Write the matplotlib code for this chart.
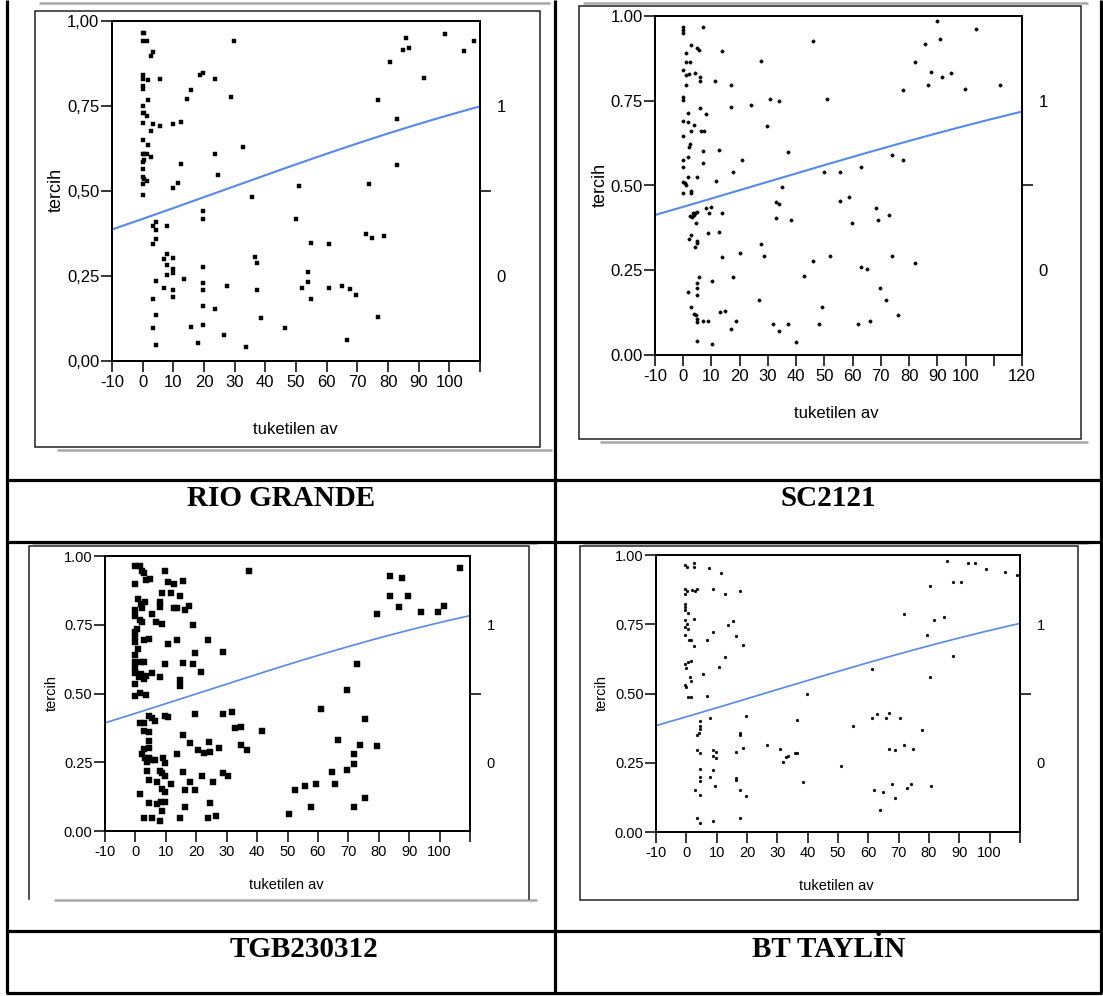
import matplotlib
matplotlib.use('Agg')
import matplotlib.pyplot as plt
import numpy as np
from matplotlib import font_manager
from matplotlib.lines import Line2D
from matplotlib.patches import Rectangle

plt.rcParams['axes.unicode_minus'] = False

# ---------------- DATA ----------------
captions = ["RIO GRANDE", "SC2121", "TGB230312", "BT TAYL\u0130N"]
x_label = "tuketilen av"
y_label = "tercih"
right_labels = ["0", "1"]

rio_x = [0, 0.5, 0, 1.4, 3.5, 2.6, 0, 0, 1.7, 5.5, 0, 0, 1.7, 0, 0, 0.5, 1.4, 0, 3.5, 5.5, 2.6, 0, 1.7, 0, 0.5, 1.4, 2.6, 0, 0.5, 0, 0, 0.5, 1.4, 0, 0,
         9.8, 12.6, 14.4, 15.6, 18.8, 19.8, 23.7, 28.8, 29.8, 23.7, 24.7, 12.6, 11.6, 9.8, 32.8, 35.6, 50.9, 76.7, 83, 83, 80.5, 84.9, 86.7, 85.8, 91.6, 98.6, 104.9, 107.9, 73.9,
         50, 19.8, 19.8, 3.5, 4.4, 7.9, 4.4, 4.4, 3.5, 7.9, 7, 9.8, 7.9, 9.8, 9.8, 7.9, 13.5, 4.4, 7, 9.8, 9.8, 3.5, 4.4, 3.5, 4.4, 19.8, 19.8, 19.8, 19.8, 19.8, 15.6, 17.9,
         23.7, 26.5, 27.4, 33.7, 36.5, 37.4, 37.4, 38.6, 46.5, 54, 54, 51.9, 55, 55, 60.9, 60.9, 64.9, 67.7, 69.5, 66.7, 72.8, 74.7, 78.6, 76.7]
rio_y = [0.965, 0.965, 0.94, 0.94, 0.91, 0.896, 0.84, 0.83, 0.825, 0.83, 0.81, 0.80, 0.767, 0.75, 0.73, 0.73, 0.72, 0.70, 0.696, 0.69, 0.677, 0.651, 0.636, 0.61, 0.61, 0.61, 0.60, 0.585, 0.59, 0.565, 0.54, 0.536, 0.53, 0.522, 0.489,
         0.696, 0.704, 0.771, 0.796, 0.84, 0.847, 0.828, 0.777, 0.94, 0.61, 0.546, 0.58, 0.524, 0.508, 0.63, 0.483, 0.514, 0.767, 0.712, 0.575, 0.879, 0.916, 0.922, 0.949, 0.832, 0.963, 0.912, 0.941, 0.52,
         0.418, 0.442, 0.418, 0.398, 0.41, 0.398, 0.385, 0.36, 0.344, 0.316, 0.30, 0.303, 0.281, 0.27, 0.26, 0.252, 0.242, 0.236, 0.216, 0.209, 0.187, 0.181, 0.134, 0.097, 0.046, 0.277, 0.228, 0.209, 0.162, 0.107, 0.10, 0.052,
         0.154, 0.077, 0.222, 0.042, 0.305, 0.289, 0.209, 0.126, 0.097, 0.263, 0.232, 0.216, 0.348, 0.181, 0.344, 0.216, 0.222, 0.213, 0.193, 0.062, 0.373, 0.363, 0.367, 0.128]

sc_x = [0, 0, 0, 0, 0, 0, 0, 0, 0, 0, 0, 0, 0.7, 1.1, 0.9, 0.9, 0.9, 1, 1.9, 2.5, 2.7, 1.7, 1.7, 2.7, 2.5, 2, 1.7, 1.7, 2.7, 2.7, 3.8, 4, 4.8, 5.7, 6, 5.9, 5.9, 6.2, 7.2, 6.9, 6.9, 6.9, 4.8, 7.9,
        11.1, 13.7, 16.8, 16.8, 12.6, 11.6, 17.8, 20.9, 24, 27.7, 29.7, 30.8, 33.9, 37, 34.9, 45.8, 51, 49.8, 55.7, 62.9, 73.8, 77.8, 78, 82.2, 85.6, 86.6, 87.7, 89.9, 90.8, 91.8, 95, 99.8, 103.8, 112.1,
        32.9, 33.9, 32.9, 38.1, 55.7, 58.7, 59.9, 68.3, 69.1, 72.8, 2.5, 3, 3.5, 4.2, 4.8, 3.7, 4.7, 2.2, 2.7, 4, 4.8, 4.8, 1.7, 2.7, 3.7, 4.7, 4.8, 4.8, 4.8, 4.8, 4.8, 5.7, 6.9, 8.9, 4.8, 10.1,
        7.9, 9.9, 9.2, 13.9, 8.9, 12.6, 10.1, 13.7, 17.8, 20, 12.9, 14.9, 18.8, 16.8, 26.7, 27.7, 28.7, 31.9, 33.9, 37.1, 40.1, 42.8, 45.8, 48, 49, 52, 61.9, 62.9, 65.1, 66.1, 69.8, 71.8, 73.8, 76, 82.2]
sc_y = [0.968, 0.958, 0.95, 0.841, 0.762, 0.752, 0.691, 0.646, 0.575, 0.556, 0.511, 0.479, 0.508, 0.501, 0.892, 0.825, 0.795, 0.864, 0.829, 0.864, 0.913, 0.715, 0.687, 0.662, 0.622, 0.614, 0.585, 0.526, 0.485, 0.477, 0.679, 0.833, 0.907, 0.901, 0.821, 0.807, 0.73, 0.66, 0.66, 0.967, 0.601, 0.565, 0.526, 0.711,
        0.807, 0.898, 0.795, 0.733, 0.605, 0.514, 0.54, 0.575, 0.736, 0.866, 0.676, 0.756, 0.75, 0.60, 0.495, 0.927, 0.756, 0.54, 0.54, 0.556, 0.589, 0.575, 0.782, 0.864, 0.917, 0.795, 0.835, 0.986, 0.931, 0.819, 0.831, 0.784, 0.961, 0.795,
        0.451, 0.445, 0.404, 0.398, 0.453, 0.465, 0.388, 0.434, 0.398, 0.414, 0.41, 0.406, 0.418, 0.42, 0.423, 0.412, 0.39, 0.343, 0.353, 0.318, 0.329, 0.335, 0.186, 0.142, 0.122, 0.118, 0.107, 0.097, 0.211, 0.198, 0.177, 0.229, 0.101, 0.101, 0.04, 0.032,
        0.434, 0.438, 0.418, 0.418, 0.359, 0.363, 0.217, 0.288, 0.229, 0.302, 0.127, 0.131, 0.101, 0.078, 0.162, 0.327, 0.292, 0.091, 0.072, 0.091, 0.038, 0.233, 0.278, 0.091, 0.143, 0.292, 0.091, 0.259, 0.255, 0.101, 0.198, 0.162, 0.292, 0.117, 0.272]

tgb_x = [-0.2, 1.5, -0.2, 2.3, 2.9, 3.5, 4.7, 0.8, 1.8, 3.3, 2.1, -0.2, -0.2, 1.4, 2.3, 0.5, 0, -0.2, -0.2, 2.9, 4.5, 0.9, -0.2, -0.2, 1.8, 2.9, -0.2, -0.2, 1.8, 3.5, 1.2, 2.9, -0.2, -0.2, 1.5, 3.5,
         5.3, 8, 5.6, 6.8, 8, 8, 8.9, 8.8, 9.7, 10.8, 12.7, 11.7, 15.5, 14.5, 12.7, 13.8, 16.4, 17.6, 18.8, 13.6, 10.8, 9.6, 15.5, 18.8, 19.7, 14.5, 14.5, 21.7, 23.7, 28.8, 37.5,
         69.4, 72.7, 79.5, 83.7, 83.7, 86.8, 87.7, 89.6, 93.8, 99.6, 101.5, 106.7,
         1.6, 2.8, 4.5, 5.4, 6.6, 2.8, 4.5, 9.6, 10.8, 19.7, 28.8, 31.9, 32.8, 34.7, 41.7, 15.5, 17.8, 24.2, 27.4, 20.6, 22.7, 24.6, 34.7, 36.6, 2.8, 2.3, 4.5, 4.5, 3.3, 4.5, 3.8, 5.6, 3.8, 4.5,
         6.6, 9.1, 9.6, 8, 8.9, 9.6, 7, 8.9, 9.6, 13.6, 11.7, 15.5, 17.8, 16.4, 19.7, 21.8, 25.6, 28.8, 30.5, 1.6, 4.5, 7, 8.4, 9.6, 8.9, 2.8, 5.6, 8, 14.5, 16.4, 23.7, 26.4, 24.6,
         50.6, 52.5, 55.6, 59.3, 57.7, 61, 64.7, 65.6, 66.6, 69.4, 71.7, 71.7, 71.7, 73.9, 75.5, 75.5, 79.5]
tgb_y = [0.964, 0.964, 0.897, 0.945, 0.938, 0.912, 0.916, 0.845, 0.827, 0.834, 0.812, 0.802, 0.781, 0.768, 0.759, 0.735, 0.725, 0.705, 0.686, 0.693, 0.698, 0.662, 0.64, 0.613, 0.613, 0.613, 0.594, 0.575, 0.572, 0.565, 0.56, 0.553, 0.536, 0.49, 0.502, 0.495,
         0.575, 0.56, 0.788, 0.759, 0.832, 0.815, 0.752, 0.865, 0.945, 0.905, 0.899, 0.865, 0.909, 0.856, 0.81, 0.81, 0.805, 0.817, 0.749, 0.693, 0.679, 0.608, 0.611, 0.608, 0.647, 0.548, 0.526, 0.579, 0.693, 0.65, 0.945,
         0.514, 0.608, 0.79, 0.856, 0.926, 0.815, 0.921, 0.856, 0.795, 0.795, 0.819, 0.956,
         0.393, 0.393, 0.419, 0.412, 0.40, 0.364, 0.359, 0.419, 0.415, 0.424, 0.424, 0.434, 0.373, 0.378, 0.364, 0.349, 0.32, 0.322, 0.303, 0.293, 0.284, 0.289, 0.313, 0.293, 0.298, 0.281, 0.327, 0.303, 0.267, 0.264, 0.25, 0.259, 0.218, 0.187,
         0.257, 0.267, 0.247, 0.218, 0.211, 0.199, 0.177, 0.153, 0.143, 0.279, 0.172, 0.213, 0.177, 0.15, 0.15, 0.201, 0.177, 0.211, 0.201, 0.136, 0.102, 0.097, 0.104, 0.104, 0.073, 0.046, 0.046, 0.036, 0.046, 0.087, 0.046, 0.056, 0.102,
         0.061, 0.148, 0.162, 0.172, 0.087, 0.444, 0.213, 0.172, 0.332, 0.223, 0.279, 0.242, 0.087, 0.313, 0.407, 0.119, 0.308]

bt_x = [-0.5, 0.2, 2.5, 2.5, 7.5, 11.4, -0.3, -0.3, 0.2, 1.8, 2.7, 3.6, 8.7, 12.6, 17.7, -0.3, -0.3, -0.3, 0.4, -0.3, 0.2, -0.3, 0.4, -0.3, 2.5, 0.9, 1.5, 2.5, 6.9, 8.7, 13.6, 15.4, 16.3, 18.8, 12.6, 10.8, 5.5,
        -0.3, 0, 0.4, 1.5, 1.3, 1.5, -0.5, 0, 0.6, 1.5, 6.9, 39.8, 61.1, 71.9, 79.4, 80.3, 81.6, 85.1, 85.8, 87.8, 90.6, 92.7, 95, 98.9, 105.1, 109, 80.3, 87.8,
        4.5, 4.5, 4.5, 3.4, 4.2, 7.8, 3.4, 4.5, 4.5, 4.5, 4.5, 2.7, 4.5, 3.4, 4.5, 7.8, 8.9, 8.9, 9.8, 8.9, 9.8, 9.6, 8.7, 16.3, 16.3, 16.3, 17.7, 17.7, 18.8, 17.7, 19.8, 17.7, 19.8,
        26.5, 30.8, 32, 33, 33.6, 35.7, 36.6, 36.6, 38.5, 51.1, 54.8, 61.1, 62.9, 65.7, 66.8, 70.5, 61.8, 64.8, 63.9, 66.8, 68.7, 71.9, 74.7, 67.8, 68.7, 72.9, 74, 77.7, 80.7]
bt_y = [0.963, 0.955, 0.972, 0.958, 0.953, 0.934, 0.878, 0.861, 0.871, 0.873, 0.869, 0.876, 0.878, 0.861, 0.871, 0.823, 0.811, 0.801, 0.792, 0.767, 0.751, 0.741, 0.734, 0.71, 0.77, 0.693, 0.693, 0.671, 0.693, 0.722, 0.746, 0.763, 0.707, 0.676, 0.63, 0.594, 0.57,
        0.608, 0.592, 0.613, 0.616, 0.56, 0.546, 0.531, 0.522, 0.486, 0.486, 0.49, 0.5, 0.587, 0.787, 0.71, 0.888, 0.767, 0.777, 0.977, 0.902, 0.902, 0.972, 0.972, 0.948, 0.939, 0.929, 0.56, 0.635,
        0.399, 0.384, 0.372, 0.351, 0.358, 0.411, 0.295, 0.286, 0.228, 0.199, 0.184, 0.153, 0.134, 0.049, 0.033, 0.199, 0.225, 0.295, 0.29, 0.273, 0.266, 0.167, 0.04, 0.29, 0.194, 0.189, 0.358, 0.351, 0.305, 0.151, 0.129, 0.049, 0.42,
        0.314, 0.3, 0.254, 0.271, 0.276, 0.286, 0.286, 0.404, 0.18, 0.24, 0.384, 0.411, 0.425, 0.411, 0.43, 0.411, 0.151, 0.146, 0.078, 0.3, 0.295, 0.314, 0.3, 0.175, 0.124, 0.16, 0.175, 0.37, 0.167]

# logistic fit coefficients (intercept, slope)
fit_coefs = {"rio": (-0.331, 0.01294), "sc": (-0.253, 0.0099),
             "tgb": (-0.291, 0.01432), "bt": (-0.340, 0.01323)}

y_ticks = [0, 0.25, 0.5, 0.75, 1.0]
y_labels_comma = ["0,00", "0,25", "0,50", "0,75", "1,00"]
y_labels_dot = ["0.00", "0.25", "0.50", "0.75", "1.00"]
x_ticks_110 = [-10, 0, 10, 20, 30, 40, 50, 60, 70, 80, 90, 100, 110]
x_labels_110 = ["-10", "0", "10", "20", "30", "40", "50", "60", "70", "80", "90", "100", ""]
x_ticks_120 = [-10, 0, 10, 20, 30, 40, 50, 60, 70, 80, 90, 100, 110, 120]
x_labels_120 = ["-10", "0", "10", "20", "30", "40", "50", "60", "70", "80", "90", "100", "", "120"]

# ---------------- STYLE / LAYOUT ----------------
W, H = 1103, 996
names = {f.name for f in font_manager.fontManager.ttflist}
NARROW = 'Liberation Sans Narrow' if 'Liberation Sans Narrow' in names else 'Liberation Sans'
SANS = 'Liberation Sans'
SERIF = 'Liberation Serif'
BLUE = '#5589ec'

fig = plt.figure(figsize=(W / 100, H / 100), dpi=100)
fig.patch.set_facecolor('white')


def fx(px):
    return px / W


def fy(py):
    return 1 - py / H


def hline(x0, x1, y, lw, color):
    fig.add_artist(Line2D([fx(x0), fx(x1)], [fy(y), fy(y)], lw=lw, color=color,
                          transform=fig.transFigure, solid_capstyle='butt'))


def vline(x, y0, y1, lw, color):
    fig.add_artist(Line2D([fx(x), fx(x)], [fy(y0), fy(y1)], lw=lw, color=color,
                          transform=fig.transFigure, solid_capstyle='butt'))


def frame(x0, y0, x1, y1, bottom=True):
    if bottom:
        fig.add_artist(Rectangle((fx(x0), fy(y1)), fx(x1) - fx(x0), fy(y0) - fy(y1),
                                 transform=fig.transFigure, fill=False, lw=1.1, ec='#202020'))
    else:
        fig.add_artist(Line2D([fx(x0), fx(x0), fx(x1), fx(x1)], [fy(y1), fy(y0), fy(y0), fy(y1)],
                              transform=fig.transFigure, lw=1.1, color='#202020'))


def panel(box, xs, ys, coef, xmax, xticks, xlabels, ylabels, marker, ms,
          fam, fs, rot_fs, lw_fit, xlab_pos, ylab_pos):
    l, t, r, b = box
    ax = fig.add_axes([fx(l), fy(b), fx(r) - fx(l), fy(t) - fy(b)])
    ax.plot(xs, ys, ls='none', marker=marker, ms=ms, color='black', mec='black', mew=0.3)
    a, s = coef
    xx = np.linspace(-10, xmax, 300)
    ax.plot(xx, 1 / (1 + np.exp(-(a + s * xx))), color=BLUE, lw=lw_fit)
    ax.set_xlim(-10, xmax)
    ax.set_ylim(0, 1)
    ax.set_xticks(xticks)
    ax.set_xticklabels(xlabels, fontfamily=fam, fontsize=fs)
    ax.set_yticks(y_ticks)
    ax.set_yticklabels(ylabels, fontfamily=fam, fontsize=fs)
    ax.tick_params(axis='y', direction='out', length=8, width=1.1, pad=1)
    ax.tick_params(axis='x', direction='out', length=8, width=1.1, pad=2)
    for sp in ax.spines.values():
        sp.set_linewidth(1.3)
    tw = ax.twinx()
    tw.set_ylim(0, 1)
    tw.set_yticks([0.25, 0.75])
    tw.set_yticklabels(right_labels, fontfamily=fam, fontsize=fs)
    tw.tick_params(axis='y', which='major', length=0, pad=12)
    tw.set_yticks([0.5], minor=True)
    tw.tick_params(axis='y', which='minor', length=8, width=1.1, direction='out')
    for sp in tw.spines.values():
        sp.set_linewidth(1.3)
    fig.text(fx(xlab_pos[0]), fy(xlab_pos[1]), x_label, ha='center', va='center',
             fontfamily=fam, fontsize=fs)
    fig.text(fx(ylab_pos[0]), fy(ylab_pos[1]), y_label, ha='center', va='center',
             rotation=90, fontfamily=SANS, fontsize=rot_fs)
    return ax


# chart frames and shadow lines
GRAY = '#a8a8a8'
hline(39, 550, 3, 1.8, GRAY)
hline(57, 552, 450, 1.8, GRAY)
frame(35, 11, 540, 447)
hline(583, 1088, 3, 1.8, GRAY)
hline(600, 1088, 442, 1.8, GRAY)
frame(579, 6, 1081, 439)
hline(32, 537, 543, 1.8, GRAY)
hline(54, 537, 900, 1.8, GRAY)
frame(29, 546, 529, 899, bottom=False)
hline(583, 1088, 543, 1.8, GRAY)
frame(580, 546, 1078, 900)

panel((112, 21, 480, 361), rio_x, rio_y, fit_coefs["rio"], 110, x_ticks_110, x_labels_110,
      y_labels_comma, 's', 2.2, NARROW, 12, 13, 1.5, (295, 429), (56, 190))
panel((655, 16, 1022, 355), sc_x, sc_y, fit_coefs["sc"], 120, x_ticks_120, x_labels_120,
      y_labels_dot, 'o', 2.4, NARROW, 12, 13, 1.5, (836, 413), (600, 185))
panel((105, 556, 470, 831), tgb_x, tgb_y, fit_coefs["tgb"], 110, x_ticks_110, x_labels_110,
      y_labels_dot, 's', 4.0, SANS, 10.5, 10.5, 1.2, (286, 885), (52, 693))
panel((656, 555, 1020, 832), bt_x, bt_y, fit_coefs["bt"], 110, x_ticks_110, x_labels_110,
      y_labels_dot, 'o', 2.0, SANS, 10.5, 10.5, 1.2, (836, 886), (602, 693))

# table grid
TL = 2.3
vline(7, 0, 993, TL, 'black')
vline(1101, 0, 993, TL, 'black')
vline(555, 0, 993, TL, 'black')
hline(7, 1101, 480, TL, 'black')
hline(7, 1101, 542, TL, 'black')
hline(7, 1101, 931, TL, 'black')
hline(6, 1102, 992.5, TL, 'black')

# captions
for txt, (cx, cy) in zip(captions, [(281, 498), (828, 498), (304, 949), (829, 949)]):
    fig.text(fx(cx), fy(cy), txt, ha='center', va='center', fontfamily=SERIF,
             fontweight='bold', fontsize=21)

fig.savefig('out.png', dpi=100, facecolor='white')
